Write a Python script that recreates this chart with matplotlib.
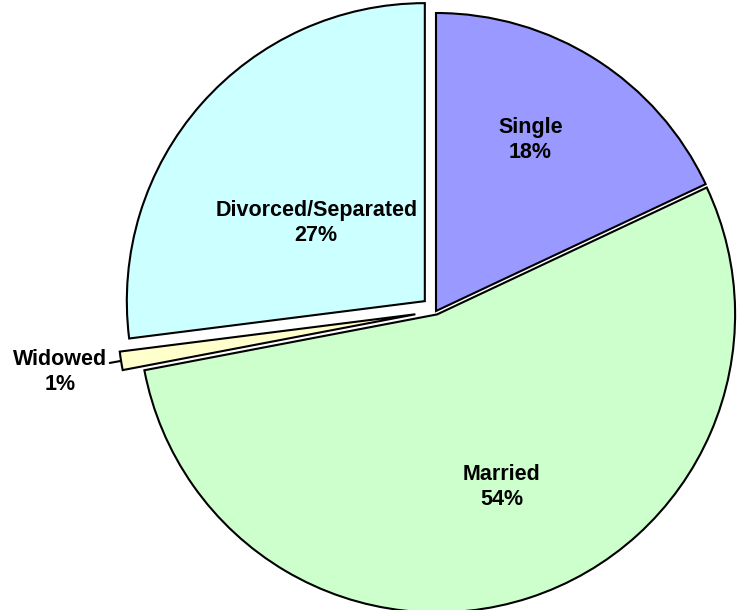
import numpy as np
import matplotlib.pyplot as plt

labels = ['Single', 'Married', 'Widowed', 'Divorced/Separated']
pcts = [18, 54, 1, 27]
colors = ['#9999FF', '#CCFFCC', '#FFFFCC', '#CCFFFF']
explode = [0.0, 0.012, 0.07, 0.05]

W, H = 740, 610
R = 298.0
cx, cy = 436, 311  # pie centre in pixels from top-left

fig = plt.figure(figsize=(W / 100, H / 100), dpi=100)
ax = fig.add_axes([0, 0, 1, 1])
ax.axis('off')

wedges, _ = ax.pie(pcts, explode=explode, colors=colors, startangle=90,
                   counterclock=False,
                   wedgeprops=dict(edgecolor='black', linewidth=1.5))
ax.set_xlim(-cx / R, (W - cx) / R)
ax.set_ylim(-(H - cy) / R, cy / R)
ax.set_aspect('auto')

font = dict(family=['Liberation Sans', 'DejaVu Sans'], fontsize=15.5,
            fontweight='bold', ha='center', va='center', linespacing=1.25)

# label placement: distance from wedge centre (fraction of radius), angle nudge
dist = [0.655, 0.62, None, 0.45]
nudge = [3.5, 2.5, 0, 5.5]
for w, lab, p, d, n in zip(wedges, labels, pcts, dist, nudge):
    mid = np.deg2rad((w.theta1 + w.theta2) / 2 + n)
    x0, y0 = w.center
    txt = f'{lab}\n{p}%'
    if d is None:
        tip = (x0 + np.cos(mid), y0 + np.sin(mid))
        ax.annotate(txt, xy=tip, xytext=(-1.262, -0.205),
                    arrowprops=dict(arrowstyle='-', color='black', lw=1.5,
                                    shrinkA=25, shrinkB=0),
                    **font)
    else:
        ax.text(x0 + d * np.cos(mid), y0 + d * np.sin(mid), txt, **font)

fig.savefig('out.png', dpi=100)
